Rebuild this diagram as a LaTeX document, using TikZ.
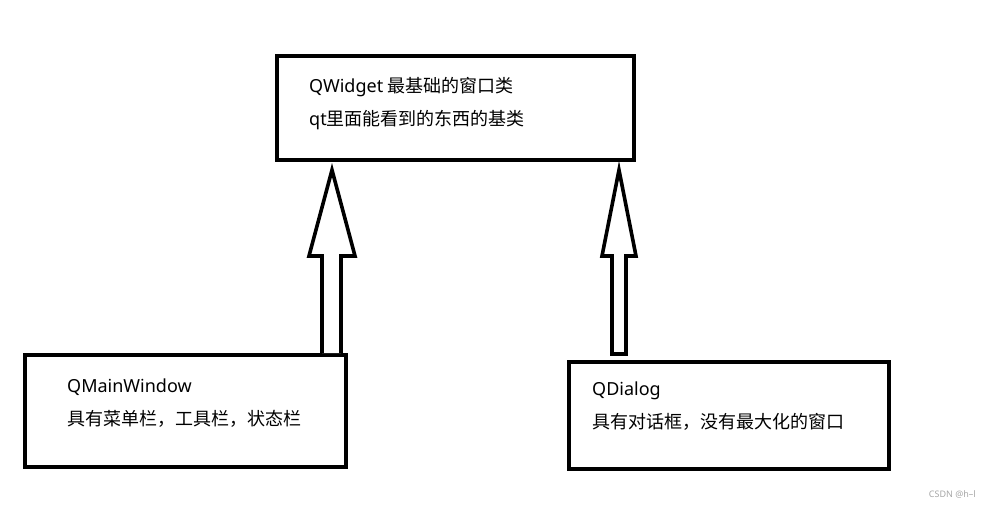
\documentclass[tikz,border=0pt]{standalone}
\usepackage{fontspec}
\setmainfont{Noto Sans}
\newfontfamily\cjk{Noto Sans CJK SC}
\begin{document}
\begin{tikzpicture}[
        x=1pt, y=-1pt,
        box/.style={draw, line width=3.6pt, inner sep=0pt},
        label/.style={anchor=west, align=left, inner sep=0pt, font=\fontsize{18}{33}\selectfont},
        hollow/.style={draw, line width=3.6pt, fill=white, line join=miter}
    ]
        \useasboundingbox (0,0) rectangle (988,508);

        % Các hộp lớp
        \node[box, minimum width=357pt, minimum height=104pt] (qwidget) at (455.5,108) {};
        \node[box, minimum width=321pt, minimum height=112pt] (qmainwin) at (185.5,411) {};
        \node[box, minimum width=320pt, minimum height=107pt] (qdialog) at (729,415.5) {};

        % Chữ trong hộp
        \node[label] (tWidget) at (309,104) {QWidget {\cjk 最基础的窗口类}\\qt{\cjk 里面能看到的东西的基类}};
        \node[label] (tMain) at (67,403.5) {QMainWindow\\{\cjk 具有菜单栏，工具栏，状态栏}};
        \node[label] (tDialog) at (592,406) {QDialog\\{\cjk 具有对话框，没有最大化的窗口}};

        % Các mũi tên kế thừa
        \coordinate (tipL) at (332,170);
        \coordinate (tipR) at (619,170);
        \draw[hollow] (322,0 |- qmainwin.north) -- (322,256) -- (309,256) -- (tipL)
            -- (355,256) -- (341,256) -- (341,0 |- qmainwin.north);
        \draw[hollow] (612,354) -- (612,256) -- (602,256) -- (tipR)
            -- (636,256) -- (626,256) -- (626,354) -- cycle;

        \node[anchor=east, text=black!35, font=\fontsize{9}{10}\selectfont, inner sep=0pt] (mark) at (976,494) {CSDN @h--l};
    \end{tikzpicture}
\end{document}
